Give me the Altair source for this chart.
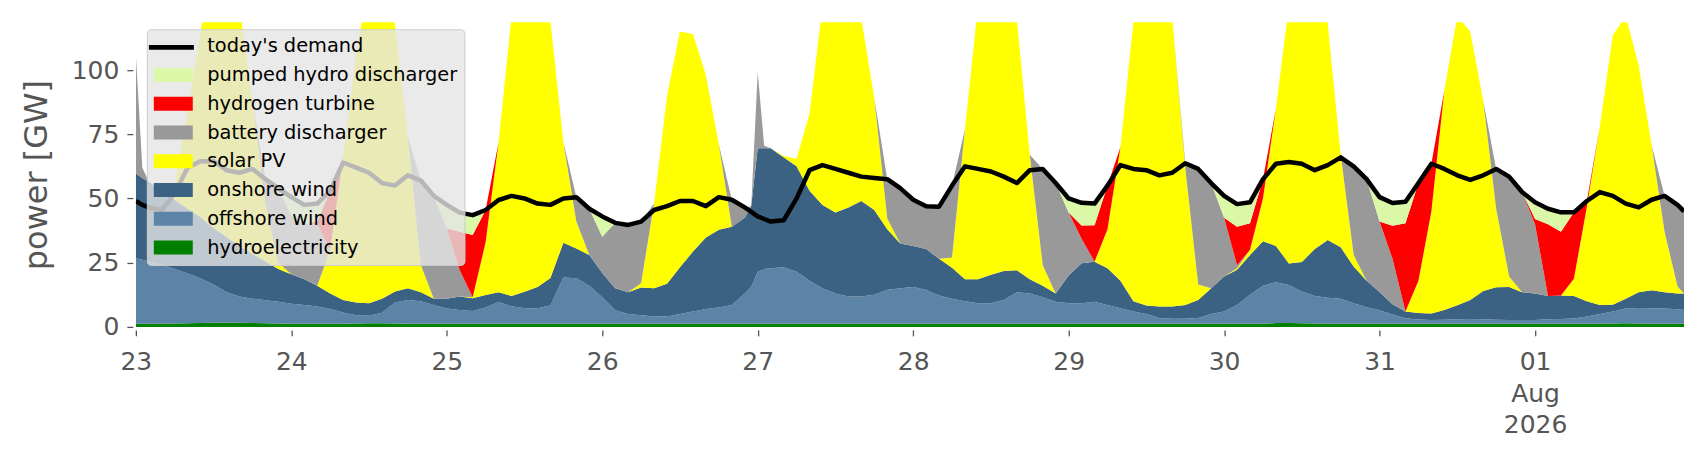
import altair as alt
import pandas as pd

# main time grid: every 2 hours from 23 Jul 2026 00:00, last point 1 Aug 23:00
hours = list(range(0, 240, 2)) + [239]

# today's demand [GW]
demand = [49, 46.5, 45.5, 52, 62, 64.5, 64.5, 61, 60, 61.5,
          57.5, 54, 50.5, 47.5, 48, 53, 64, 62, 60, 56,
          55, 59, 57, 51, 47.5, 44.5, 43.5, 45.5, 49.4, 51,
          50, 48, 47.5, 50, 50.5, 46, 43, 40.5, 39.7, 41,
          45.5, 47, 49, 49, 47, 50.5, 49.5, 46.5, 43, 41,
          41.5, 50, 61, 63, 61.5, 60, 58.5, 58, 57.5, 54,
          49.5, 47, 46.8, 55, 62.5, 61.5, 60.5, 58.5, 56, 61,
          61.5, 56, 50, 48.3, 48, 55, 63, 61.5, 61, 59,
          60, 63.7, 61.5, 56, 51, 47.8, 48.5, 57.5, 63.5, 64.2,
          63.5, 61, 63, 66, 62.5, 57.5, 50.5, 48.2, 48.7, 56,
          63.5, 61.5, 59, 57.2, 59, 61.5, 58.5, 52.5, 48.5, 46,
          44.6, 44.6, 49, 52.5, 51, 48, 46.5, 49.5, 51, 47.5,
          45]

# upper edge of each stacked band [GW]
hydro_top = [1.2, 1.2, 1.2, 1.3, 1.4, 1.5, 1.6, 1.6, 1.6, 1.5,
             1.4, 1.3, 1.2, 1.2, 1.2, 1.2, 1.2, 1.3, 1.4, 1.4,
             1.3, 1.2, 1.2, 1.2, 1.2, 1.2, 1.2, 1.2, 1.2, 1.2,
             1.2, 1.2, 1.2, 1.2, 1.2, 1.2, 1.2, 1.2, 1.2, 1.2,
             1.2, 1.2, 1.2, 1.2, 1.2, 1.2, 1.2, 1.2, 1.2, 1.2,
             1.2, 1.2, 1.2, 1.2, 1.2, 1.2, 1.2, 1.2, 1.2, 1.2,
             1.2, 1.2, 1.2, 1.2, 1.2, 1.2, 1.2, 1.2, 1.2, 1.2,
             1.2, 1.2, 1.2, 1.2, 1.2, 1.2, 1.2, 1.2, 1.2, 1.2,
             1.2, 1.2, 1.2, 1.2, 1.2, 1.2, 1.2, 1.2, 1.5, 1.5,
             1.4, 1.3, 1.2, 1.2, 1.2, 1.2, 1.2, 1.2, 1.2, 1.2,
             1.2, 1.2, 1.2, 1.2, 1.2, 1.2, 1.2, 1.2, 1.2, 1.2,
             1.2, 1.2, 1.2, 1.2, 1.3, 1.4, 1.3, 1.2, 1.2, 1.2,
             1.2]

offshore_top = [26.7, 25.5, 24.2, 22.5, 20.8, 18.8, 16.5, 13.5, 11.8, 11,
                10.4, 9.8, 9, 8.5, 7.9, 7, 5.6, 4.5, 4.3, 5.5,
                9.5, 10.5, 10, 8.5, 7.2, 6.6, 6.2, 7.5, 9.7, 8,
                7.3, 7.3, 8.3, 19.2, 18.9, 16, 11.5, 6.5, 5, 4.5,
                4, 4, 5, 6, 7, 7.5, 8.5, 13, 21.5, 22.8,
                23.2, 21.5, 18, 15, 13, 11.8, 11.8, 12.5, 14.5, 15,
                15.5, 14.4, 12.2, 11, 10, 9.2, 9.2, 10.5, 13.5, 13,
                11.5, 9.8, 9.2, 9.2, 9.8, 8.5, 7.3, 6, 5, 3.5,
                3.2, 3.2, 3.5, 5, 6, 8.5, 12.5, 16, 17.4, 16.3,
                13.8, 12, 11.3, 11, 9.2, 7.6, 6.5, 4.8, 3.4, 2.9,
                2.7, 2.8, 3, 3.1, 3, 2.8, 2.7, 2.7, 2.7, 3,
                3.1, 3.3, 4, 5, 6, 7.2, 7.4, 7.3, 7.2, 6.9,
                6.6]

onshore_top = [59.7, 56.5, 53, 49.5, 46, 42.7, 38.5, 35, 31.5, 28.5,
               25.5, 22.5, 20.5, 18.5, 16, 13, 10.5, 9.5, 9.2, 11,
               13.8, 15, 13.5, 11, 11, 11.8, 11.1, 12.4, 13.5, 12,
               13.7, 15.5, 19, 32.8, 30.5, 28, 21, 15, 13.5, 15.3,
               15, 16.8, 23.2, 29.3, 34.8, 37.8, 39, 42.5, 69.5, 69.5,
               66, 62.5, 53, 47.5, 44.5, 46.5, 49, 45.5, 38, 32.5,
               31.5, 30.3, 26.5, 23, 18.5, 18.5, 20.3, 21.8, 22, 18.5,
               16, 13, 20, 24.8, 25.4, 22.8, 18, 10, 8.3, 7.9,
               7.9, 8.5, 10.5, 15, 19.6, 22.2, 28, 33.3, 31.5, 24.7,
               25.3, 30.3, 33.8, 31, 23.5, 18, 13.6, 8.8, 6, 5.4,
               5.2, 6.6, 8.4, 10.5, 14, 15.4, 15.5, 13.5, 13, 12,
               12.2, 12, 10, 8.5, 8.6, 11, 13.5, 14.3, 13.5, 13,
               13]

solar_top = [59.7, 56.5, 53.5, 55, 84, 115, 150, 152, 125, 88,
             48, 25, 20.5, 18.5, 16, 30, 66, 106, 135, 135,
             118, 74, 24, 11, 11, 11.8, 11.5, 33, 72, 121,
             145, 145, 119, 72, 41, 28, 21, 15, 13.5, 17,
             48, 90, 115, 114, 98, 71, 39, 42.5, 69.5, 69.5,
             66.5, 65.5, 83, 125, 150, 150, 120, 89, 42.2, 32.5,
             31.5, 30.3, 26.5, 27, 77, 125, 150, 145, 120, 67,
             24, 13, 20, 24.8, 25.4, 38, 70, 119, 150, 150,
             120, 62, 16.5, 15, 19.6, 22.8, 30, 50, 85, 125,
             150, 150, 118, 67, 28, 18, 13.6, 8.8, 6, 18,
             45, 92, 121, 115, 88, 46, 19.6, 13.5, 13, 12,
             12.2, 18.7, 46.8, 78, 113.5, 121, 102, 70.7, 37, 15.7,
             13]

battery_top = [106, 56.5, 53.5, 55, 84, 115, 150, 152, 125, 88,
               57.5, 54, 43.5, 40, 40, 30, 66, 106, 135, 135,
               118, 74, 57, 51, 38.3, 22, 11.5, 33, 72, 121,
               145, 145, 119, 72, 50.5, 46, 35.1, 40.5, 39.7, 41,
               48, 90, 115, 114, 98, 71, 49.5, 46.5, 99, 69.5,
               66.5, 65.5, 83, 125, 150, 150, 120, 89, 57.5, 54,
               49.5, 47, 46.8, 55, 77, 125, 150, 145, 120, 67,
               61.5, 56, 44.5, 34.3, 25.4, 38, 70, 119, 150, 150,
               120, 63.7, 61.5, 56, 42.5, 24, 30, 50, 85, 125,
               150, 150, 118, 67, 62.5, 57.5, 41, 26.5, 6, 18,
               45, 92, 121, 115, 88, 61.5, 58.5, 52.5, 40, 12,
               12.2, 18.7, 46.8, 78, 113.5, 121, 102, 70.7, 51, 47.5,
               45]

hydrogen_top = [106, 56.5, 53.5, 55, 84, 115, 150, 152, 125, 88,
                57.5, 54, 43.5, 40, 41, 53, 66, 106, 135, 135,
                118, 74, 57, 51, 38.3, 37, 35.8, 45.5, 72, 121,
                145, 145, 119, 72, 50.5, 46, 35.1, 40.5, 39.7, 41,
                48, 90, 115, 114, 98, 71, 49.5, 46.5, 99, 69.5,
                66.5, 65.5, 83, 125, 150, 150, 120, 89, 57.5, 54,
                49.5, 47, 46.8, 55, 77, 125, 150, 145, 120, 67,
                61.5, 56, 44.5, 39.5, 39.6, 55, 70, 119, 150, 150,
                120, 63.7, 61.5, 56, 42.5, 39, 40.3, 57.5, 85, 125,
                150, 150, 118, 67, 62.5, 57.5, 41, 39.4, 40.3, 56,
                63.5, 92, 121, 115, 88, 61.5, 58.5, 52.5, 42, 40,
                37, 44.6, 49, 78, 113.5, 121, 102, 70.7, 51, 47.5,
                45]

pumped_top = [106, 56.5, 53.5, 55, 84, 115, 150, 152, 125, 88,
              57.5, 54, 50.5, 47.5, 48, 53, 66, 106, 135, 135,
              118, 74, 57, 51, 47.5, 44.5, 43.5, 45.5, 72, 121,
              145, 145, 119, 72, 50.5, 46, 43, 40.5, 39.7, 41,
              48, 90, 115, 114, 98, 71, 49.5, 46.5, 99, 69.5,
              66.5, 65.5, 83, 125, 150, 150, 120, 89, 57.5, 54,
              49.5, 47, 46.8, 55, 77, 125, 150, 145, 120, 67,
              61.5, 56, 50, 48.3, 48, 55, 70, 119, 150, 150,
              120, 63.7, 61.5, 56, 51, 47.8, 48.5, 57.5, 85, 125,
              150, 150, 118, 67, 62.5, 57.5, 50.5, 48.2, 48.7, 56,
              63.5, 92, 121, 115, 88, 61.5, 58.5, 52.5, 48.5, 46,
              44.6, 44.6, 49, 78, 113.5, 121, 102, 70.7, 51, 47.5,
              45]

# a few extra hourly readings where the picture has narrow spikes
extra_hours = [1, 95, 97]
extra_demand = [47.5, 44.8, 42]
extra_hydro = [1.2, 1.2, 1.2]
extra_offshore = [26.1, 15.5, 22.5]
extra_onshore = [58, 47, 69.5]
extra_solar = [58, 47, 69.5]
extra_battery = [62, 47, 70.5]
extra_hydrogen = [62, 47, 70.5]
extra_pumped = [62, 47, 70.5]

all_hours = hours + extra_hours
order_idx = sorted(range(len(all_hours)), key=lambda i: all_hours[i])


def merged(main, extra):
    vals = list(main) + list(extra)
    return [vals[i] for i in order_idx]


H = [all_hours[i] for i in order_idx]
times = [(pd.Timestamp("2026-07-23") + pd.Timedelta(hours=h)).strftime("%Y-%m-%dT%H:%M:%S") for h in H]
D = merged(demand, extra_demand)
edges = {
    "hydro": merged(hydro_top, extra_hydro),
    "offshore": merged(offshore_top, extra_offshore),
    "onshore": merged(onshore_top, extra_onshore),
    "solar": merged(solar_top, extra_solar),
    "battery": merged(battery_top, extra_battery),
    "hydrogen": merged(hydrogen_top, extra_hydrogen),
    "pumped": merged(pumped_top, extra_pumped),
}
base = [0] * len(H)

names = ["today's demand", "pumped hydro discharger", "hydrogen turbine",
         "battery discharger", "solar PV", "onshore wind", "offshore wind",
         "hydroelectricity"]
# first entry is drawn by the line legend on top, so it is transparent here
colors = ["rgba(0,0,0,0)", "#dbf7a8", "#ff0000", "#999999", "#ffff00",
          "#3b6283", "#5b84a6", "#008000"]

bands = [
    ("hydroelectricity", base, edges["hydro"]),
    ("offshore wind", edges["hydro"], edges["offshore"]),
    ("onshore wind", edges["offshore"], edges["onshore"]),
    ("solar PV", edges["onshore"], edges["solar"]),
    ("battery discharger", edges["solar"], edges["battery"]),
    ("hydrogen turbine", edges["battery"], edges["hydrogen"]),
    ("pumped hydro discharger", edges["hydrogen"], edges["pumped"]),
]

rows = []
for k, (name, lo, hi) in enumerate(bands):
    for i, t in enumerate(times):
        rows.append({"t": t, "series": name, "lo": lo[i], "hi": hi[i], "k": k})
area_df = pd.DataFrame(rows)
line_df = pd.DataFrame({"t": times, "series": "today's demand", "demand": D})

RECT = "M-1.95,-0.7H1.95V0.7H-1.95Z"

area_legend = alt.Legend(
    title=None, orient="none", legendX=11, legendY=7,
    fillColor="rgba(229,229,229,0.8)", strokeColor="#cccccc", cornerRadius=4,
    padding=7, labelFont="DejaVu Sans", labelFontSize=19.4, labelColor="#000000",
    labelLimit=600, labelOffset=24, symbolType=RECT, symbolSize=400, symbolOffset=9.5,
    symbolStrokeWidth=0, symbolOpacity=1, rowPadding=8.8, zindex=1,
)
line_legend = alt.Legend(
    title=None, orient="none", legendX=10.6, legendY=0.2, padding=0,
    symbolType="stroke", symbolSize=2025, symbolStrokeWidth=4.7,
    symbolStrokeColor="#000000", labelExpr="''", labelFontSize=1, zindex=2,
)

xscale = alt.Scale(domain=[alt.DateTime(year=2026, month=7, date=23, hours=0),
                           alt.DateTime(year=2026, month=8, date=1, hours=23)], nice=False)
yscale = alt.Scale(domain=[0, 118.6], nice=False)

tick_days = [alt.DateTime(year=2026, month=7, date=d) for d in range(23, 32)] + \
            [alt.DateTime(year=2026, month=8, date=1)]

xaxis = alt.Axis(values=tick_days, title=None, domain=False, grid=False,
                 tickSize=6, tickWidth=1.3, tickColor="#555555", offset=3,
                 labelPadding=14, labelFont="DejaVu Sans", labelFontSize=25,
                 labelColor="#555555", labelFlush=False, labelOverlap=False,
                 labelBaseline="top", labelLineHeight=31.5,
                 labelExpr="timeFormat(datum.value, '%d') === '01' ? ['01', 'Aug', '2026'] : timeFormat(datum.value, '%d')")
yaxis = alt.Axis(values=[0, 25, 50, 75, 100], title="power [GW]", domain=False, grid=False,
                 tickSize=6, tickWidth=1.3, tickColor="#555555", offset=3,
                 labelPadding=8, labelFont="DejaVu Sans", labelFontSize=25,
                 labelColor="#555555", titleFont="DejaVu Sans", titleFontSize=32,
                 titleFontWeight="normal", titleColor="#555555", titlePadding=18)

area = alt.Chart(area_df).mark_area(clip=True, interpolate="linear").encode(
    x=alt.X("t:T", scale=xscale, axis=xaxis),
    y=alt.Y("lo:Q", scale=yscale, axis=yaxis, stack=None),
    y2="hi:Q",
    color=alt.Color("series:N", scale=alt.Scale(domain=names, range=colors), legend=area_legend),
    order=alt.Order("k:Q"),
)

line = alt.Chart(line_df).mark_line(clip=True, strokeWidth=4.5, strokeJoin="round").encode(
    x=alt.X("t:T", scale=xscale),
    y=alt.Y("demand:Q", scale=yscale),
    color=alt.Color("series:N", scale=alt.Scale(domain=["today's demand"], range=["#000000"]),
                    legend=line_legend),
)

chart = alt.layer(area, line).resolve_scale(color="independent").properties(
    width=1550, height=305,
    padding={"left": 128, "top": 14, "right": 14, "bottom": 124},
    autosize="none",
    background="white",
).configure_view(stroke=None)

chart.save("out.html", embed_options={"renderer": "svg", "actions": False})
